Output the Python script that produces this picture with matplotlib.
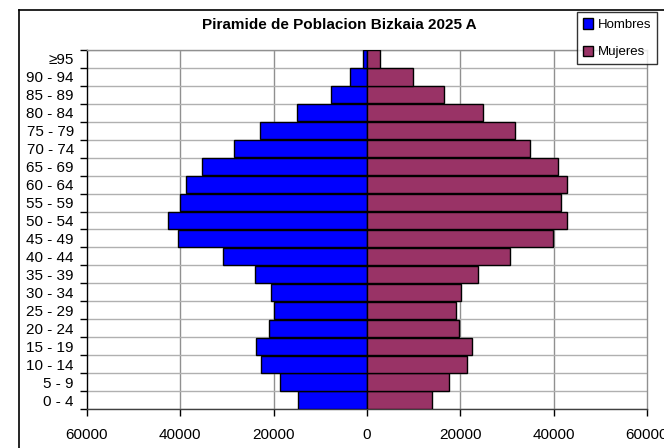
import matplotlib
matplotlib.use("Agg")
import matplotlib.pyplot as plt
from matplotlib.lines import Line2D
from matplotlib.patches import Patch
import numpy as np

plt.rcParams['font.family'] = ['Liberation Sans', 'DejaVu Sans']

age_groups = ["0 - 4", "5 - 9", "10 - 14", "15 - 19", "20 - 24", "25 - 29", "30 - 34",
              "35 - 39", "40 - 44", "45 - 49", "50 - 54", "55 - 59", "60 - 64", "65 - 69",
              "70 - 74", "75 - 79", "80 - 84", "85 - 89", "90 - 94", "\u226595"]
hombres = [14700, 18600, 22800, 23700, 20900, 20000, 20500, 23900, 30900, 40400,
           42600, 40100, 38700, 35300, 28400, 23000, 15000, 7800, 3600, 800]
mujeres = [14000, 17600, 21500, 22400, 19800, 19000, 20100, 23700, 30700, 39800,
           42900, 41500, 42900, 41000, 34900, 31800, 24800, 16500, 9800, 2800]
x_ticks = [-60000, -40000, -20000, 0, 20000, 40000, 60000]
x_tick_labels = ["60000", "40000", "20000", "0", "20000", "40000", "60000"]
title = "Piramide de Poblacion Bizkaia 2025 A"

W, H = 664, 448
fig = plt.figure(figsize=(W / 100, H / 100), dpi=100)
ax = fig.add_axes([87 / W, 1 - 409 / H, (647 - 87) / W, (409 - 50) / H])

y = np.arange(len(age_groups))
ax.barh(y, [-v for v in hombres], height=0.96, color='#0000FF', edgecolor='black',
        linewidth=1.0, zorder=3, label='Hombres')
ax.barh(y, mujeres, height=0.96, color='#993366', edgecolor='black',
        linewidth=1.0, zorder=3, label='Mujeres')

ax.set_xlim(-60000, 60000)
ax.set_ylim(-0.5, len(age_groups) - 0.5)

ax.set_xticks(x_ticks)
ax.set_xticklabels(x_tick_labels, fontsize=11)
ax.set_yticks(y)
ax.set_yticklabels(age_groups, fontsize=11)
ax.tick_params(axis='y', length=0, pad=9.5)
ax.set_yticks(np.arange(-0.5, len(age_groups), 1), minor=True)
ax.tick_params(axis='y', which='minor', length=5, direction='out', width=1, color='black')
ax.tick_params(axis='x', length=5, direction='out', width=1, color='black', pad=9)

for xv in x_ticks[1:-1]:
    ax.axvline(xv, color='#909090', linewidth=1, zorder=1)
for yv in np.arange(-0.5, len(age_groups), 1):
    ax.axhline(yv, color='#b0b0b0', linewidth=1, zorder=1)

ax.spines['left'].set_color('black')
ax.spines['bottom'].set_color('#404040')
ax.spines['right'].set_color('#909090')
ax.spines['top'].set_color('#909090')
for s in ax.spines.values():
    s.set_linewidth(1)

fig.text(339 / W, 1 - 25 / H, title, ha='center', va='center', fontsize=11,
         fontweight='bold')

handles = [Patch(facecolor='#0000FF', edgecolor='black'),
           Patch(facecolor='#993366', edgecolor='black')]
leg = fig.legend(handles, ['Hombres', 'Mujeres'], loc='upper left',
                 bbox_to_anchor=(577 / W, 1 - 12.5 / H), fontsize=9.5,
                 frameon=True, fancybox=False, handlelength=0.8, handleheight=0.8,
                 handletextpad=0.3, labelspacing=1.1, borderpad=0.45,
                 borderaxespad=0)
leg.get_frame().set_edgecolor('black')
leg.get_frame().set_linewidth(1)

fig.add_artist(Line2D([19 / W, 19 / W], [0, 1 - 10 / H], color='black', linewidth=1.2,
                      transform=fig.transFigure))
fig.add_artist(Line2D([19 / W, 1], [1 - 10 / H, 1 - 10 / H], color='black', linewidth=1.2,
                      transform=fig.transFigure))

fig.savefig('out.png', dpi=100)
